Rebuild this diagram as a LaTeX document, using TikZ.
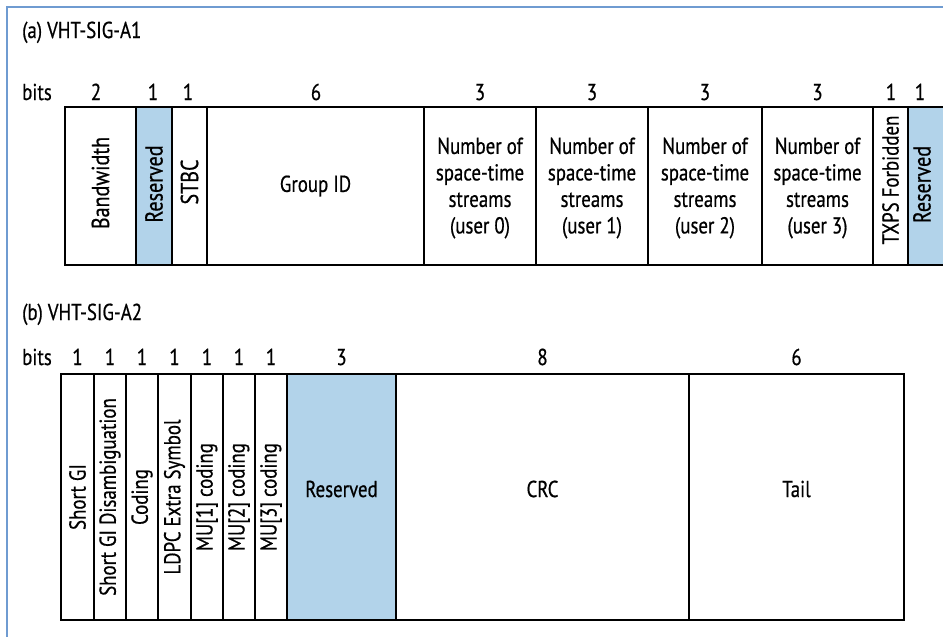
\documentclass[tikz,border=0pt]{standalone}
\usepackage{fontspec}
\setmainfont{PT Sans}[FakeStretch=0.82,FakeBold=0.6]
\definecolor{frameblue}{RGB}{111,155,209}
\definecolor{resblue}{RGB}{178,211,234}
\begin{document}
\begin{tikzpicture}[x=1pt,y=-1pt,
  fieldline/.style={draw=black,line width=2.8pt},
  lbl/.style={inner sep=0pt,align=center,font=\fontsize{23}{26.5}\selectfont},
  vlbl/.style={lbl,rotate=90},
  vlblbig/.style={vlbl,font=\fontsize{24.5}{28}\selectfont},
  bitlbl/.style={inner sep=0pt,anchor=base,font=\fontsize{23}{26}\selectfont},
  ttl/.style={inner sep=0pt,anchor=base west,font=\fontsize{23}{26}\selectfont}]
\useasboundingbox (0,0) rectangle (943,637);
% frame
\draw[frameblue,line width=2pt] (7,700) -- (7,7) -- (1000,7);
% ---------- (a) VHT-SIG-A1 ----------
\node[ttl] (ta) at (22,38) {(a) VHT-SIG-A1};
\node[bitlbl] (bitsa) at (37,100) {bits};
\foreach \a/\b/\f in {65/136/white,136/172/resblue,172/207/white,207/424/white,424/536/white,536/648/white,648/762/white,762/873/white,873/908/white,908/950/resblue}
  \draw[fieldline,fill=\f] (\a,107) rectangle (\b,265);
\node[vlblbig] (abw) at (100.5,183) {Bandwidth};
\node[vlblbig] (ares1) at (154,184) {Reserved};
\node[vlblbig] (astbc) at (189.5,182) {STBC};
\node[lbl] (agid) at (315.5,186) {Group ID};
\node[lbl] (an0) at (480,188) {Number of\\space-time\\streams\\(user 0)};
\node[lbl] (an1) at (592,188) {Number of\\space-time\\streams\\(user 1)};
\node[lbl] (an2) at (705,188) {Number of\\space-time\\streams\\(user 2)};
\node[lbl] (an3) at (817.5,188) {Number of\\space-time\\streams\\(user 3)};
\node[vlbl] (atxps) at (890.5,180) {TXPS Forbidden};
\node[vlblbig] (ares2) at (922,184.5) {Reserved};
\foreach \x/\t [count=\i] in {96/2,153/1,188/1,316/6,480/3,592/3,705/3,817.5/3,891/1,920/1}
  \node[bitlbl] (abit\i) at (\x,100) {\t};
% ---------- (b) VHT-SIG-A2 ----------
\node[ttl] (tb) at (22,320) {(b) VHT-SIG-A2};
\node[bitlbl] (bitsb) at (37,365) {bits};
\foreach \a/\b/\f in {61/94/white,94/126/white,126/158/white,158/191/white,191/223/white,223/255/white,255/287/white,287/396/resblue,396/689/white,689/904/white}
  \draw[fieldline,fill=\f] (\a,374) rectangle (\b,620);
\node[vlbl] (bsgi) at (77.5,497) {Short GI};
\node[vlbl] (bsgid) at (110,497) {Short GI Disambiguation};
\node[vlbl] (bcod) at (142,497) {Coding};
\node[vlbl] (bldpc) at (174.5,497) {LDPC Extra Symbol};
\node[vlbl] (bmu1) at (207,497) {MU[1] coding};
\node[vlbl] (bmu2) at (239,497) {MU[2] coding};
\node[vlbl] (bmu3) at (271,497) {MU[3] coding};
\node[lbl] (bres) at (341.5,489) {Reserved};
\node[lbl] (bcrc) at (542.5,489) {CRC};
\node[lbl] (btail) at (796.5,489) {Tail};
\foreach \x/\t [count=\i] in {77.5/1,110/1,142/1,174.5/1,207/1,239/1,271/1,341.5/3,542.5/8,796.5/6}
  \node[bitlbl] (bbit\i) at (\x,365) {\t};
\end{tikzpicture}
\end{document}
